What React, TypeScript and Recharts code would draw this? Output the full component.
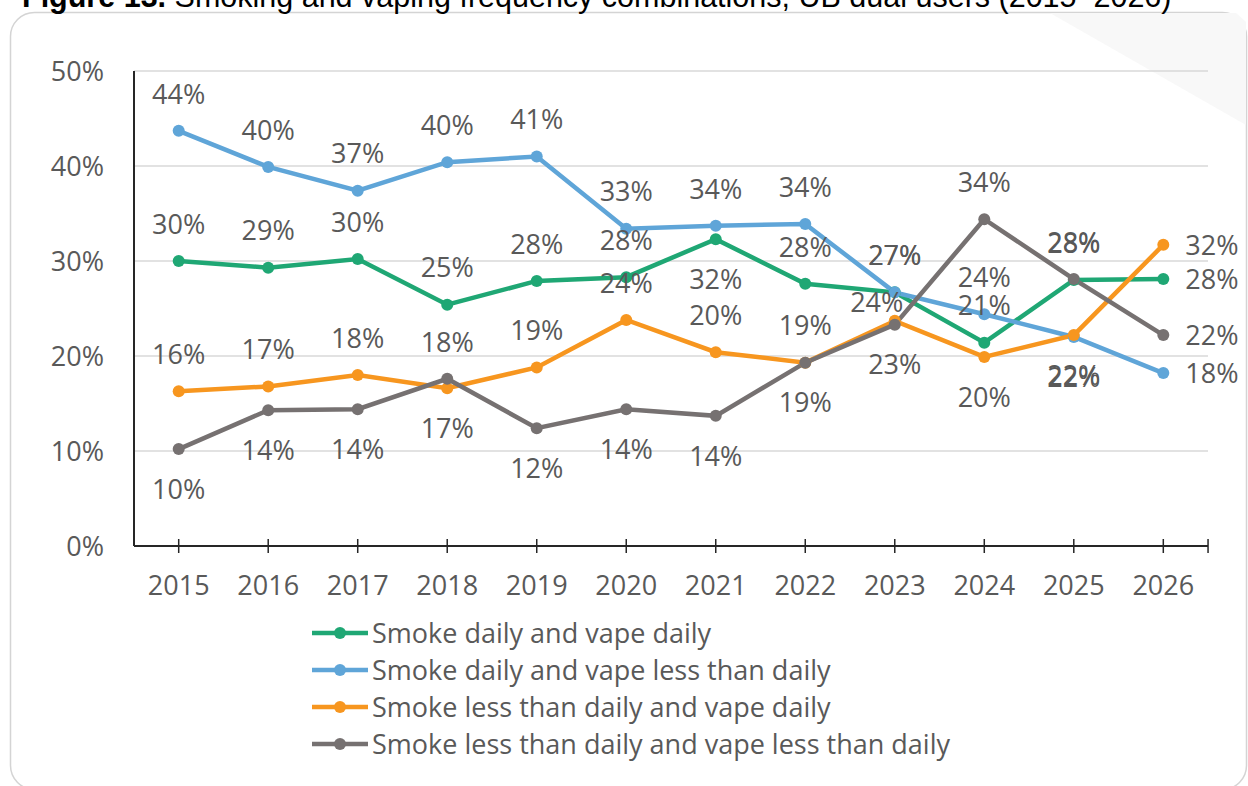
import React from 'react';
import { LineChart, Line, XAxis, YAxis, CartesianGrid, Legend, LabelList } from 'recharts';

const years = ['2015', '2016', '2017', '2018', '2019', '2020', '2021', '2022', '2023', '2024', '2025', '2026'];
const smokeDailyVapeDaily = [30.0, 29.3, 30.2, 25.4, 27.9, 28.3, 32.3, 27.6, 26.7, 21.4, 28.0, 28.1];
const smokeDailyVapeLess = [43.7, 39.9, 37.4, 40.4, 41.0, 33.4, 33.7, 33.9, 26.7, 24.4, 22.0, 18.2];
const smokeLessVapeDaily = [16.3, 16.8, 18.0, 16.6, 18.8, 23.8, 20.4, 19.3, 23.7, 19.9, 22.2, 31.7];
const smokeLessVapeLess = [10.2, 14.3, 14.4, 17.6, 12.4, 14.4, 13.7, 19.3, 23.3, 34.4, 28.1, 22.2];
const yTicks = [0, 10, 20, 30, 40, 50];
const seriesNames = [
  'Smoke daily and vape daily',
  'Smoke daily and vape less than daily',
  'Smoke less than daily and vape daily',
  'Smoke less than daily and vape less than daily',
];
const titleBold = 'Figure 13.';
const titleRest = ' Smoking and vaping frequency combinations, UB dual users (2015\u20132026)';

const data = years.map((y, i) => ({
  year: y,
  s1: smokeDailyVapeDaily[i],
  s2: smokeDailyVapeLess[i],
  s3: smokeLessVapeDaily[i],
  s4: smokeLessVapeLess[i],
}));

// label placement styles (t = above, b = below, r = right, tl = above-left)
const place1 = ['t', 't', 't', 't', 't', 't', 'b', 't', 't', 't', 't', 'r'];
const place2 = ['t', 't', 't', 't', 't', 't', 't', 't', 't', 't', 'b', 'r'];
const place3 = ['t', 't', 't', 'b', 't', 't', 't', 't', 'tl', 'b', 'b', 'r'];
const place4 = ['b', 'b', 'b', 't', 'b', 'b', 'b', 'b', 'b', 't', 't', 'r'];

const COLORS = ['#1FA774', '#5FA5D8', '#F7961F', '#767171'];
const TEXT = '#595959';
const FONT = '"Open Sans", "Noto Sans", sans-serif';
const FS = 27;

const makeLabel = (placement: string[]) => (props: any) => {
  const { x, y, value, index } = props;
  const p = placement[index];
  let tx = x;
  let ty = y - 37;
  let anchor: 'middle' | 'start' = 'middle';
  if (p === 'b') ty = y + 40;
  if (p === 'tl') { tx = x - 18; ty = y - 19; }
  if (p === 'r') { tx = x + 22; ty = y; anchor = 'start'; }
  return (
    <text x={tx} y={ty} dy="0.36em" textAnchor={anchor} fill={TEXT} fontSize={FS} fontFamily={FONT}>
      {Math.round(Number(value)) + '%'}
    </text>
  );
};

const XTick = (props: any) => {
  const { x, payload, index } = props;
  const step = 89.5;
  return (
    <g>
      <line x1={x} x2={x} y1={546 - 7} y2={546 + 7} stroke="#262626" strokeWidth={1.5} />
      {index === years.length - 1 && (
        <line x1={x + step / 2} x2={x + step / 2} y1={546 - 7} y2={546 + 7} stroke="#262626" strokeWidth={1.5} />
      )}
      <text x={x} y={595} textAnchor="middle" fill={TEXT} fontSize={FS} fontFamily={FONT}>
        {payload.value}
      </text>
    </g>
  );
};

const renderLegend = () => (
  <div style={{ fontFamily: FONT, fontSize: FS, color: TEXT }}>
    {seriesNames.map((n, i) => (
      <div key={n} style={{ display: 'flex', alignItems: 'center', height: 37, whiteSpace: 'nowrap' }}>
        <svg width={60} height={20} style={{ display: 'block' }}>
          <line x1={0} x2={56} y1={10} y2={10} stroke={COLORS[i]} strokeWidth={4.5} />
          <circle cx={28} cy={10} r={6} fill={COLORS[i]} />
        </svg>
        <span style={{ lineHeight: '37px' }}>{n}</span>
      </div>
    ))}
  </div>
);

export default function App() {
  const series = [
    { key: 's1', place: place1 },
    { key: 's2', place: place2 },
    { key: 's3', place: place3 },
    { key: 's4', place: place4 },
  ];
  return (
    <div style={{ position: 'absolute', left: 0, top: 0, width: 1248, height: 786, overflow: 'hidden', background: '#fff' }}>
      <svg width={1248} height={786} style={{ position: 'absolute', left: 0, top: 0 }}>
        <rect x={10.5} y={12.5} width={1236} height={777} rx={24} ry={24} fill="#fff" stroke="#d4d4d4" strokeWidth={1.5} />
        <polygon points="1050,13 1236,13 1246,22 1246,125" fill="#f8f8f8" />
        <text x={22} y={7} fontFamily='"Liberation Sans", Arial, sans-serif' fontSize={30.5} fill="#000">
          <tspan fontWeight="bold">{titleBold}</tspan>
          <tspan>{titleRest}</tspan>
        </text>
      </svg>
      <div style={{ position: 'absolute', left: 0, top: 0 }}>
        <LineChart width={1248} height={786} data={data} margin={{ top: 71, right: 40, left: 34, bottom: 32 }}>
          <CartesianGrid vertical={false} stroke="#d9d9d9" strokeWidth={1.5} />
          <XAxis
            dataKey="year"
            padding={{ left: 44.7, right: 44.7 }}
            axisLine={{ stroke: '#262626', strokeWidth: 2 }}
            tickLine={false}
            tick={<XTick />}
            interval={0}
            height={60}
          />
          <YAxis
            domain={[0, 50]}
            ticks={yTicks}
            width={100}
            axisLine={{ stroke: '#262626', strokeWidth: 2 }}
            tickLine={false}
            tickSize={0}
            tickMargin={30}
            tickFormatter={(v: number) => v + '%'}
            tick={{ fill: TEXT, fontSize: FS, fontFamily: FONT }}
          />
          {series.map((s, i) => (
            <Line
              key={s.key}
              dataKey={s.key}
              name={seriesNames[i]}
              stroke={COLORS[i]}
              strokeWidth={4.5}
              dot={{ r: 6, fill: COLORS[i], stroke: COLORS[i], strokeWidth: 0 }}
              isAnimationActive={false}
            >
              <LabelList dataKey={s.key} content={makeLabel(s.place)} />
            </Line>
          ))}
          <Legend content={renderLegend} wrapperStyle={{ position: 'absolute', left: 312, top: 614, width: 800 }} />
        </LineChart>
      </div>
    </div>
  );
}
